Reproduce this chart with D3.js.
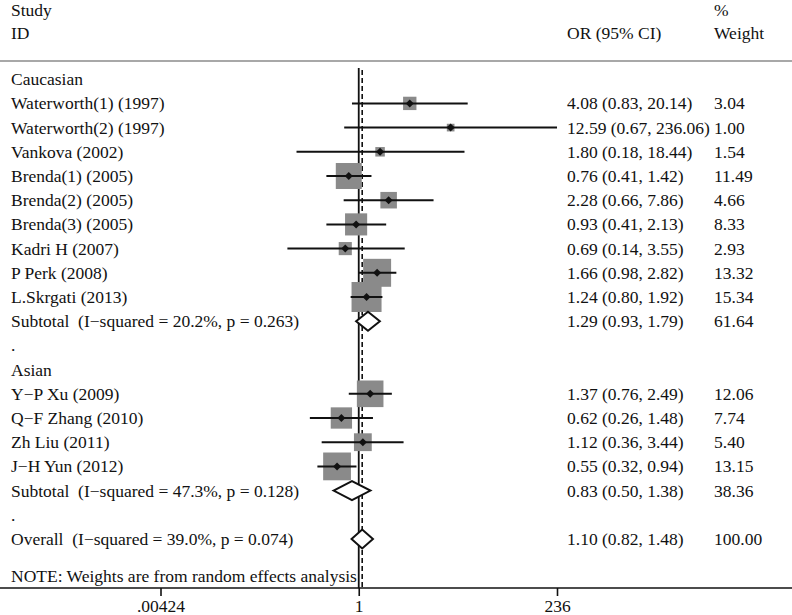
<!DOCTYPE html>
<html>
<head>
<meta charset="utf-8">
<script src="https://cdn.jsdelivr.net/npm/d3@7"></script>
<style>
  html, body { margin: 0; padding: 0; background: #fff; }
  svg { display: block; }
  text { font-family: "Liberation Serif", "Times New Roman", serif; font-size: 17.5px; fill: #111; white-space: pre; }
</style>
</head>
<body>
<svg id="chart" width="792" height="615"></svg>
<script>
// ---- data ----
const groups = ["Caucasian", "Asian"];
const studyLabels = [
  "Waterworth(1) (1997)", "Waterworth(2) (1997)", "Vankova (2002)", "Brenda(1) (2005)",
  "Brenda(2) (2005)", "Brenda(3) (2005)", "Kadri H (2007)", "P Perk (2008)", "L.Skrgati (2013)",
  "Y\u2212P Xu (2009)", "Q\u2212F Zhang (2010)", "Zh Liu (2011)", "J\u2212H Yun (2012)"
];
const studyGroup = [0,0,0,0,0,0,0,0,0,1,1,1,1];
const studyOR   = [4.08, 12.59, 1.80, 0.76, 2.28, 0.93, 0.69, 1.66, 1.24, 1.37, 0.62, 1.12, 0.55];
const studyLo   = [0.83, 0.67, 0.18, 0.41, 0.66, 0.41, 0.14, 0.98, 0.80, 0.76, 0.26, 0.36, 0.32];
const studyHi   = [20.14, 236.06, 18.44, 1.42, 7.86, 2.13, 3.55, 2.82, 1.92, 2.49, 1.48, 3.44, 0.94];
const studyWeight = [3.04, 1.00, 1.54, 11.49, 4.66, 8.33, 2.93, 13.32, 15.34, 12.06, 7.74, 5.40, 13.15];

const subtotalLabels = [
  "Subtotal  (I\u2212squared = 20.2%, p = 0.263)",
  "Subtotal  (I\u2212squared = 47.3%, p = 0.128)"
];
const subtotalOR = [1.29, 0.83];
const subtotalLo = [0.93, 0.50];
const subtotalHi = [1.79, 1.38];
const subtotalWeight = [61.64, 38.36];

const overallLabel = "Overall  (I\u2212squared = 39.0%, p = 0.074)";
const overallOR = 1.10, overallLo = 0.82, overallHi = 1.48, overallWeight = 100.00;

const tickValues = [0.00424, 1, 236];
const tickLabels = [".00424", "1", "236"];
const noteText = "NOTE: Weights are from random effects analysis";

// ---- build rows ----
const rows = [];
groups.forEach((g, gi) => {
  rows.push({type: "group", label: g});
  studyLabels.forEach((s, i) => {
    if (studyGroup[i] === gi) rows.push({type: "study", label: s, or: studyOR[i], lo: studyLo[i], hi: studyHi[i], w: studyWeight[i]});
  });
  rows.push({type: "subtotal", label: subtotalLabels[gi], or: subtotalOR[gi], lo: subtotalLo[gi], hi: subtotalHi[gi], w: subtotalWeight[gi]});
  rows.push({type: "dot", label: "."});
});
rows.push({type: "overall", label: overallLabel, or: overallOR, lo: overallLo, hi: overallHi, w: overallWeight});

// ---- layout ----
const svg = d3.select("#chart");
const x = d3.scaleLog().domain([0.00424, 236]).range([160.5, 557]);
const y = d3.scaleLinear().domain([0, 1]).range([79.2, 103.4]); // row center
const side = d3.scaleSqrt().domain([0, 15.34]).range([0, 30]);
const axisY = 588;
const f2 = d3.format(".2f");
const colLeft = 11, colOR = 567, colW = 714;

// headers
svg.append("text").attr("x", colLeft).attr("y", 15.5).text("Study");
svg.append("text").attr("x", colLeft).attr("y", 38.5).text("ID");
svg.append("text").attr("x", colOR).attr("y", 38.5).text("OR (95% CI)");
svg.append("text").attr("x", colW).attr("y", 15.5).text("%");
svg.append("text").attr("x", colW).attr("y", 38.5).text("Weight");

// separator
svg.append("line").attr("x1", 0).attr("x2", 792).attr("y1", 61).attr("y2", 61)
  .attr("stroke", "#a8a8a8").attr("stroke-width", 2);

// reference lines
svg.append("line").attr("x1", x(1)).attr("x2", x(1)).attr("y1", 68).attr("y2", axisY)
  .attr("stroke", "#111").attr("stroke-width", 1.8);
svg.append("line").attr("x1", x(overallOR)).attr("x2", x(overallOR)).attr("y1", 70).attr("y2", axisY)
  .attr("stroke", "#111").attr("stroke-width", 1.6).attr("stroke-dasharray", "5,3");

// rows
rows.forEach((r, i) => {
  const cy = y(i);
  svg.append("text").attr("x", colLeft).attr("y", cy + 6).text(r.label);
  if (r.type === "study") {
    const s = side(r.w);
    svg.append("rect").attr("x", x(r.or) - s / 2).attr("y", cy - s / 2)
      .attr("width", s).attr("height", s).attr("fill", "#8a8a8a");
    svg.append("line").attr("x1", x(r.lo)).attr("x2", x(r.hi)).attr("y1", cy).attr("y2", cy)
      .attr("stroke", "#111").attr("stroke-width", 2);
    const m = 4;
    svg.append("path").attr("d", `M${x(r.or) - m},${cy}L${x(r.or)},${cy - m}L${x(r.or) + m},${cy}L${x(r.or)},${cy + m}Z`)
      .attr("fill", "#111");
  }
  if (r.type === "subtotal" || r.type === "overall") {
    const h = 9.5;
    svg.append("path")
      .attr("d", `M${x(r.lo)},${cy}L${x(r.or)},${cy - h}L${x(r.hi)},${cy}L${x(r.or)},${cy + h}Z`)
      .attr("fill", "#fff").attr("stroke", "#111").attr("stroke-width", 2).attr("stroke-linejoin", "miter");
  }
  if (r.or !== undefined) {
    svg.append("text").attr("x", colOR).attr("y", cy + 6)
      .text(`${f2(r.or)} (${f2(r.lo)}, ${f2(r.hi)})`);
    svg.append("text").attr("x", colW).attr("y", cy + 6).text(f2(r.w));
  }
});

// note
svg.append("text").attr("x", colLeft).attr("y", 581.5).text(noteText);

// axis
svg.append("line").attr("x1", 0).attr("x2", 792).attr("y1", axisY).attr("y2", axisY)
  .attr("stroke", "#111").attr("stroke-width", 1.6);
const axis = d3.axisBottom(x).tickValues(tickValues).tickFormat((d, i) => tickLabels[i]).tickSize(8).tickPadding(4);
const g = svg.append("g").attr("transform", `translate(0,${axisY})`).call(axis);
g.select(".domain").remove();
g.selectAll(".tick line").attr("stroke", "#111").attr("stroke-width", 1.6);
g.selectAll(".tick text").attr("font-family", "Liberation Serif, Times New Roman, serif")
  .attr("font-size", "17.5px").attr("fill", "#111").attr("dy", "0.71em");
</script>
</body>
</html>
